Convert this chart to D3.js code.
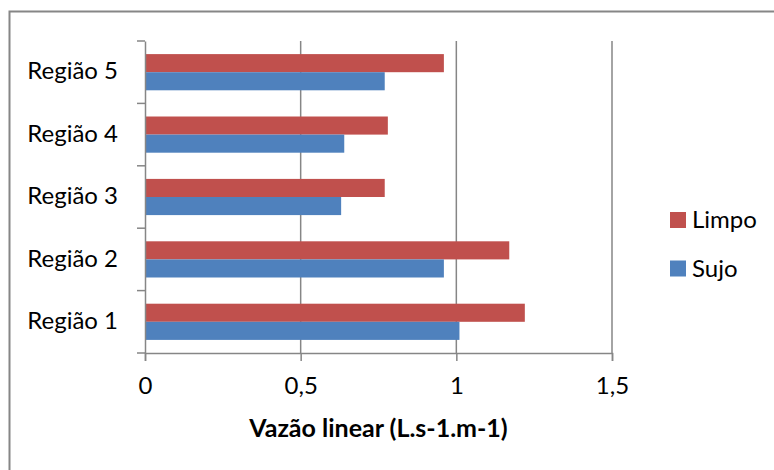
<!DOCTYPE html>
<html>
<head>
<meta charset="utf-8">
<script src="https://cdn.jsdelivr.net/npm/d3@7"></script>
<style>
  body { margin: 0; background: #fff; }
  svg { display: block; font-family: Lato, "Liberation Sans", sans-serif; }
</style>
</head>
<body>
<div id="vis1"></div>
<script>
const FRAME_WIDTH = 774;
const FRAME_HEIGHT = 470;
const MARGINS = {left: 145, right: 162, top: 41, bottom: 117};

const VIS_WIDTH = FRAME_WIDTH - MARGINS.left - MARGINS.right;
const VIS_HEIGHT = FRAME_HEIGHT - MARGINS.top - MARGINS.bottom;

// data
const categories = ["Região 1", "Região 2", "Região 3", "Região 4", "Região 5"];
const sujo = [1.01, 0.96, 0.63, 0.64, 0.77];
const limpo = [1.22, 1.17, 0.77, 0.78, 0.96];
const xTicks = [0, 0.5, 1, 1.5];
const xTickLabels = ["0", "0,5", "1", "1,5"];
const seriesNames = ["Limpo", "Sujo"];
const COLORS = {Limpo: "#C0504D", Sujo: "#4F81BD"};
const GRID = "#868686";

const FRAME = d3.select("#vis1")
    .append("svg")
    .attr("width", FRAME_WIDTH)
    .attr("height", FRAME_HEIGHT);

// outer chart border (runs off the right and bottom of the picture)
FRAME.append("rect")
    .attr("x", 9.5)
    .attr("y", 11.5)
    .attr("width", 800)
    .attr("height", 500)
    .attr("fill", "none")
    .attr("stroke", GRID)
    .attr("stroke-width", 2);

const X_SCALE = d3.scaleLinear()
    .domain([0, 1.5])
    .range([MARGINS.left, MARGINS.left + VIS_WIDTH]);

// Região 1 at the bottom
const Y_SCALE = d3.scaleBand()
    .domain(categories.slice().reverse())
    .range([MARGINS.top, MARGINS.top + VIS_HEIGHT]);

const band = Y_SCALE.bandwidth();
const barH = band * 0.29;

// vertical gridlines
FRAME.append("g")
    .selectAll("line")
    .data(xTicks.slice(1))
    .enter()
    .append("line")
    .attr("x1", (d) => X_SCALE(d))
    .attr("x2", (d) => X_SCALE(d))
    .attr("y1", MARGINS.top)
    .attr("y2", MARGINS.top + VIS_HEIGHT)
    .attr("stroke", GRID)
    .attr("stroke-width", 1.5);

const rows = categories.map((c, i) => ({cat: c, Sujo: sujo[i], Limpo: limpo[i]}));

// bars: Limpo on top, Sujo below
FRAME.append("g")
    .selectAll("rect")
    .data(rows)
    .enter()
    .append("rect")
    .attr("x", X_SCALE(0))
    .attr("y", (d) => Y_SCALE(d.cat) + band / 2 - barH)
    .attr("width", (d) => X_SCALE(d.Limpo) - X_SCALE(0))
    .attr("height", barH)
    .attr("fill", COLORS.Limpo);

FRAME.append("g")
    .selectAll("rect")
    .data(rows)
    .enter()
    .append("rect")
    .attr("x", X_SCALE(0))
    .attr("y", (d) => Y_SCALE(d.cat) + band / 2)
    .attr("width", (d) => X_SCALE(d.Sujo) - X_SCALE(0))
    .attr("height", barH)
    .attr("fill", COLORS.Sujo);

// x axis
const xAxis = FRAME.append("g")
    .attr("transform", "translate(0," + (MARGINS.top + VIS_HEIGHT) + ")")
    .call(d3.axisBottom(X_SCALE)
        .tickValues(xTicks)
        .tickSize(8)
        .tickFormat((d, i) => xTickLabels[i]));

// y axis, ticks on the band edges
const yAxis = FRAME.append("g")
    .attr("transform", "translate(" + MARGINS.left + ",0)")
    .call(d3.axisLeft(Y_SCALE).tickSize(0).tickPadding(27));

const edges = d3.range(categories.length + 1).map((i) => MARGINS.top + i * band);
yAxis.selectAll(".edge")
    .data(edges)
    .enter()
    .append("line")
    .attr("class", "edge")
    .attr("x1", -8)
    .attr("x2", 0)
    .attr("y1", (d) => d)
    .attr("y2", (d) => d);

[xAxis, yAxis].forEach((g) => {
    g.select(".domain").attr("stroke", GRID).attr("stroke-width", 1.5);
    g.selectAll("line").attr("stroke", GRID).attr("stroke-width", 1.5);
    g.selectAll("text")
        .attr("fill", "#000")
        .style("font-size", "24px")
        .style("font-family", "Lato, sans-serif");
});
xAxis.selectAll("text").attr("dy", null).attr("y", 41);
yAxis.selectAll("text").attr("dy", "0.3em");

// axis title
FRAME.append("text")
    .attr("x", (X_SCALE(0) + X_SCALE(1.5)) / 2)
    .attr("y", 437)
    .attr("text-anchor", "middle")
    .style("font-size", "25px")
    .style("font-weight", "bold")
    .text("Vazão linear (L.s-1.m-1)");

// legend
const legend = FRAME.append("g")
    .selectAll("g")
    .data(seriesNames)
    .enter()
    .append("g")
    .attr("transform", (d, i) => "translate(670," + (212 + i * 48.5) + ")");

legend.append("rect")
    .attr("width", 16)
    .attr("height", 16)
    .attr("fill", (d) => COLORS[d]);

legend.append("text")
    .attr("x", 22)
    .attr("y", 16)
    .style("font-size", "24px")
    .text((d) => d);
</script>
</body>
</html>
